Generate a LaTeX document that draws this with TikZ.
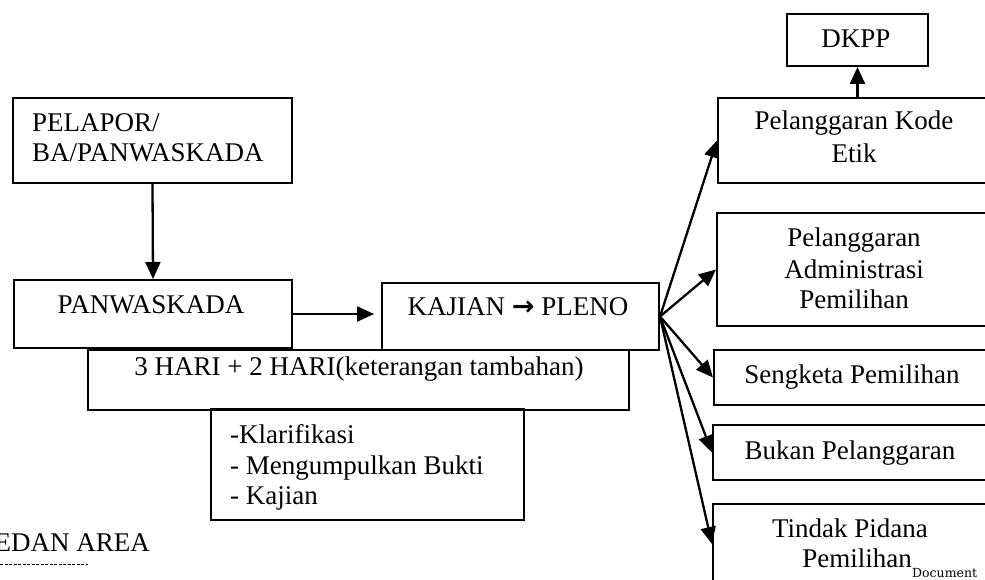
\documentclass[tikz,border=0pt]{standalone}
\usepackage{fontspec}
\setmainfont{Liberation Serif}
\newfontfamily\arrfont{DejaVu Sans}
\newfontfamily\docfont{DejaVu Serif}
\usepackage{tikz}
\usetikzlibrary{arrows.meta,positioning}
\tikzset{box/.style={draw,line width=2pt,rectangle,inner sep=0pt,anchor=north west},
  lbl/.style={inner sep=0pt,font=\fontsize{27}{31}\selectfont},
  arr/.style={-{Triangle[length=17pt,width=15pt]},line width=2.3pt}}
\newcommand{\Tarrow}{{\arrfont\bfseries →}}

\begin{document}
\begin{tikzpicture}[x=1pt,y=-1pt]
\useasboundingbox (0,0) rectangle (985,580);
\clip (0,0) rectangle (985,580);
% left column
\node (b1) [box,minimum width=279,minimum height=85] at (12,97) {};
\node (t1a) [lbl,anchor=base west] at (32,132) {PELAPOR/};
\node (t1b) [lbl,anchor=base west] at (32,162) {BA/PANWASKADA};
\node (b2) [box,minimum width=278,minimum height=68] at (13,279) {};
\node (t2) [lbl,anchor=base] at (151,313) {PANWASKADA};
\node (b3) [box,minimum width=277,minimum height=67] at (381,282) {};
\node (t3) [lbl,anchor=base] at (518,315) {KAJIAN \Tarrow{} PLENO};
\node (b4) [box,minimum width=541,minimum height=60] at (87,349) {};
\node (t4) [lbl,anchor=base] at (359,375) {3 HARI + 2 HARI(keterangan tambahan)};
\node (b5) [box,minimum width=313,minimum height=111] at (210,408) {};
\node (t5a) [lbl,anchor=base west] at (230,443) {-Klarifikasi};
\node (t5b) [lbl,anchor=base west] at (230,474) {- Mengumpulkan Bukti};
\node (t5c) [lbl,anchor=base west] at (230,504) {- Kajian};
% right column
\node (b6) [box,minimum width=141,minimum height=52] at (786,13) {};
\node (t6) [lbl,anchor=base] at (856,48) {DKPP};
\node (b7) [box,minimum width=290,minimum height=85] at (717,97) {};
\node (t7a) [lbl,anchor=base] at (854,130) {Pelanggaran Kode};
\node (t7b) [lbl,anchor=base] at (854,163) {Etik};
\node (b8) [box,minimum width=290,minimum height=113] at (716,212) {};
\node (t8a) [lbl,anchor=base] at (854,247) {Pelanggaran};
\node (t8b) [lbl,anchor=base] at (854,278) {Administrasi};
\node (t8c) [lbl,anchor=base] at (854,308) {Pemilihan};
\node (b9) [box,minimum width=290,minimum height=55] at (713,349) {};
\node (t9) [lbl,anchor=base] at (852,383) {Sengketa Pemilihan};
\node (b10) [box,minimum width=290,minimum height=55] at (712,424) {};
\node (t10) [lbl,anchor=base] at (850,459) {Bukan Pelanggaran};
\node (b11) [box,minimum width=290,minimum height=80] at (712,503) {};
\node (t11a) [lbl,anchor=base] at (850,537) {Tindak Pidana};
\node (t11b) [lbl,anchor=base] at (857,567) {Pemilihan};
\node (t11c) [inner sep=0pt,anchor=base west,font=\docfont\fontsize{12.5}{14}\selectfont] at (t11b.base east) [yshift=-10pt] {Document};
% page remains
\node (m1) [inner sep=0pt,anchor=base east,font=\fontsize{27}{30}\selectfont] at (150,551) {EDAN AREA};
\draw[line width=0.7pt,dash pattern=on 3pt off 1.5pt] (0,564) -- (88,564);
%
\path[arr] (b1.south) edge (b2.north);
\path[arr,shorten >=7pt] (b2.east) edge (b2.east -| b3.west);
\path[arr] (b7.north -| b6.south) edge (b6.south);
\path[arr] (b3.east) edge (b7.west);
\path[arr] (b3.east) edge (b8.west);
\path[arr] (b3.east) edge (b9.west);
\path[arr] (b3.east) edge (b10.west);
\path[arr] (b3.east) edge (b11.west);
\end{tikzpicture}
\end{document}
